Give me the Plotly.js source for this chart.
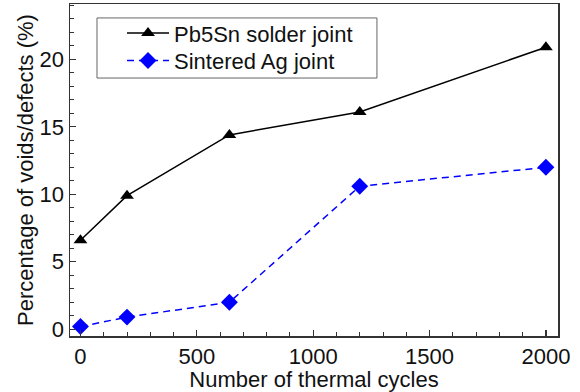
<!DOCTYPE html>
<html>
<head>
<meta charset="utf-8">
<script src="https://cdn.plot.ly/plotly-3.0.1.min.js"></script>
<style>html,body{margin:0;padding:0;background:#fff;}#chart{width:580px;height:392px;}</style>
</head>
<body>
<div id="chart"></div>
<script>
var cycles = [0, 200, 640, 1200, 2000];
var pb5snVoids = [6.6, 9.9, 14.4, 16.1, 20.9];
var sinteredAgVoids = [0.2, 0.9, 2.0, 10.6, 12.0];
var seriesNames = ["Pb5Sn solder joint", "Sintered Ag joint"];

var FONT = "Liberation Sans, Arial, sans-serif";

var traces = [
  {
    x: cycles, y: pb5snVoids, name: seriesNames[0], type: "scatter", mode: "lines+markers",
    line: {color: "#000000", width: 1.5},
    marker: {symbol: "triangle-up", size: 12, color: "#000000"},
    legend: "legend"
  },
  {
    x: cycles, y: sinteredAgVoids, name: seriesNames[1], type: "scatter", mode: "lines+markers",
    line: {color: "#0000ff", width: 1.5, dash: "7px,5px"},
    marker: {symbol: "diamond", size: 13, color: "#0000ff"},
    legend: "legend2"
  }
];

var axisCommon = {
  showgrid: false, zeroline: false, showline: true, mirror: true,
  linecolor: "#333333", linewidth: 1.5,
  ticks: "inside", ticklen: 6, tickwidth: 1.2, tickcolor: "#333333",
  tickfont: {family: FONT, size: 22, color: "#111"}
};

var legendCommon = {
  xanchor: "left", yanchor: "top",
  bgcolor: "rgba(0,0,0,0)", borderwidth: 0,
  font: {family: FONT, size: 22, color: "#111"},
  itemwidth: 42
};

var layout = {
  width: 580, height: 392,
  margin: {l: 70, r: 22, t: 4, b: 56},
  paper_bgcolor: "#ffffff", plot_bgcolor: "#ffffff",
  showlegend: true,
  legend: Object.assign({}, legendCommon, {x: 0.1066, y: 0.975}),
  legend2: Object.assign({}, legendCommon, {x: 0.1066, y: 0.8925}),
  shapes: [{
    type: "rect", xref: "paper", yref: "paper",
    x0: 0.0553, x1: 0.629, y0: 0.777, y1: 0.958,
    line: {color: "#666666", width: 1}, fillcolor: "rgba(0,0,0,0)", layer: "above"
  }],
  xaxis: Object.assign({}, axisCommon, {
    range: [-45, 2052], tickvals: [0, 500, 1000, 1500, 2000],
    minor: {dtick: 100, ticks: "inside", ticklen: 4, tickcolor: "#333333", tickwidth: 1},
    title: {text: "Number of thermal cycles", standoff: 4,
            font: {family: FONT, size: 22, color: "#111"}}
  }),
  yaxis: Object.assign({}, axisCommon, {
    range: [-0.5, 24.1], tickvals: [0, 5, 10, 15, 20],
    minor: {dtick: 1, ticks: "inside", ticklen: 4, tickcolor: "#333333", tickwidth: 1},
    title: {text: "Percentage of voids/defects (%)", standoff: 0,
            font: {family: FONT, size: 22, color: "#111"}}
  })
};

Plotly.newPlot("chart", traces, layout, {displayModeBar: false, staticPlot: true});
</script>
</body>
</html>
